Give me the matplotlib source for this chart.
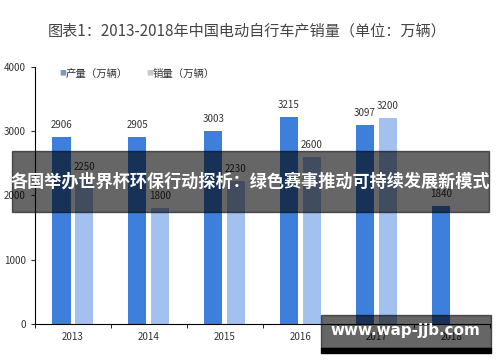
import numpy as np
import matplotlib
matplotlib.use('Agg')
import matplotlib.pyplot as plt
from matplotlib.patches import Rectangle

plt.rcParams['font.family'] = ['Noto Sans CJK SC', 'DejaVu Sans']

years      = ['2013', '2014', '2015', '2016', '2017', '2018']
production = [2906, 2905, 3003, 3215, 3097, 1840]
sales      = [2250, 1800, 2230, 2600, 3200, np.nan]
prod_labels  = ['2906', '2905', '3003', '3215', '3097', '1840']
sales_labels = ['2250', '1800', '2230', '2600', '3200', '']

title  = '图表1：2013-2018年中国电动自行车产销量（单位：万辆）'
banner = '各国举办世界杯环保行动探析：绿色赛事推动可持续发展新模式'
site   = 'www.wap-jjb.com'

c_prod  = '#3D7FDB'
c_sales = '#A3C1EE'

fig = plt.figure(figsize=(5, 3.62), dpi=100)
ax = fig.add_axes([0.07, 0.105, 0.91, 0.71])

x = np.arange(len(years))
w = 0.24
off = 0.15
ax.bar(x - off, production, w, color=c_prod)
ax.bar(x + off, sales, w, color=c_sales)

for i in range(len(years)):
    ax.text(x[i] - off, production[i] + 110, prod_labels[i], ha='center', va='bottom',
            fontsize=7, color='#333333')
    if not np.isnan(sales[i]):
        ax.text(x[i] + off, sales[i] + 110, sales_labels[i], ha='center', va='bottom',
                fontsize=7, color='#333333')

ax.set_xlim(-0.5, len(years) - 0.5)
ax.set_ylim(0, 4000)
ax.set_yticks([0, 1000, 2000, 3000, 4000])
ax.set_xticks(x)
ax.set_xticklabels(years)
ax.set_xticks(np.arange(-0.5, len(years)), minor=True)
ax.tick_params(axis='x', which='major', length=0, labelsize=7, colors='#333333', pad=6)
ax.tick_params(axis='x', which='minor', length=3, direction='out')
ax.tick_params(axis='y', length=3, labelsize=7, colors='#333333')
for s in ['top', 'right']:
    ax.spines[s].set_visible(False)

# legend
fig.text(0.118, 0.797, '■', fontsize=5, color='#7D98BC', va='center')
fig.text(0.132, 0.797, '产量（万辆）', fontsize=7.5, color='#333333', va='center')
fig.text(0.292, 0.797, '■', fontsize=5, color='#C8C8C8', va='center')
fig.text(0.306, 0.797, '销量（万辆）', fontsize=7.5, color='#333333', va='center')

fig.text(0.495, 0.915, title, ha='center', va='center', fontsize=10.9, color='#444444')

# overlay banner
fig.patches.append(Rectangle((0.024, 1 - 212 / 362), 0.954, 61 / 362, transform=fig.transFigure,
                             color='black', alpha=0.6, zorder=5))
fig.text(0.5, 1 - 182 / 362, banner, ha='center', va='center', fontsize=12.3,
         fontweight='bold', color='white', zorder=6)

# site watermark
fig.patches.append(Rectangle((0.642, 1 - 348 / 362), 0.34, 33 / 362, transform=fig.transFigure,
                             color='black', alpha=0.6, zorder=5))
fig.patches.append(Rectangle((0.642, 1 - 353 / 362), 0.34, 5 / 362, transform=fig.transFigure,
                             color='black', zorder=5))
fig.text(0.81, 1 - 331 / 362, site, ha='center', va='center', fontsize=10.9,
         fontweight='bold', color='white', family='DejaVu Sans', zorder=6)

fig.savefig('out.png', dpi=100)
